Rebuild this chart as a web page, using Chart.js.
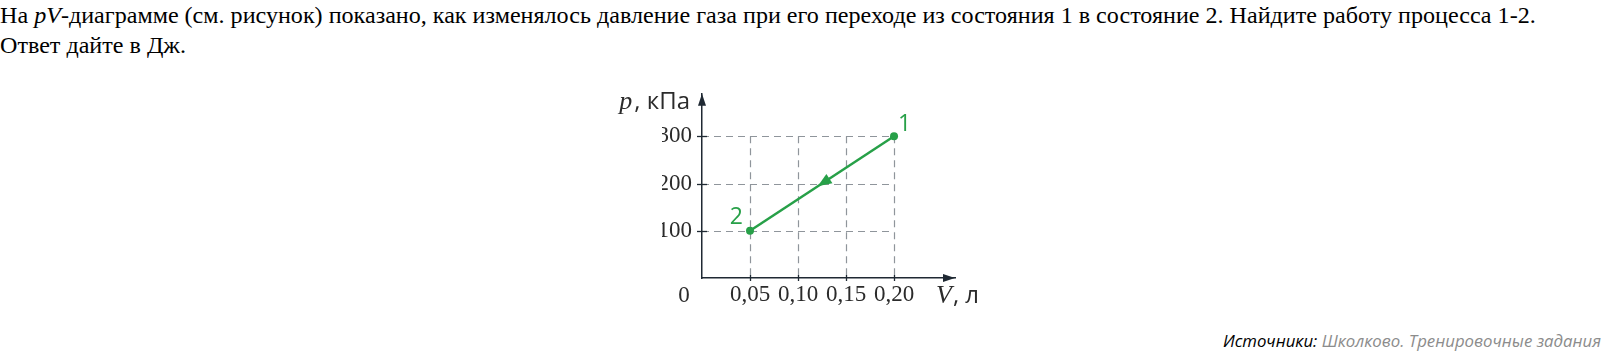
<!DOCTYPE html>
<html lang="ru">
<head>
<meta charset="utf-8">
<script src="https://cdn.jsdelivr.net/npm/chart.js@4.4.0/dist/chart.umd.min.js"></script>
<style>
html, body { margin: 0; padding: 0; background: #fff; width: 1601px; height: 351px; overflow: hidden; }
.task { position: absolute; left: 0; top: 1px; font-family: "Liberation Serif", serif; font-size: 24.1px; line-height: 29.5px; color: #000; white-space: nowrap; }
.task i { font-style: italic; }
#wrap { position: absolute; left: 600px; top: 70px; width: 380px; height: 250px; }
.source { position: absolute; right: 0; top: 329px; font-family: "Open Sans", sans-serif; font-style: italic; font-size: 16.8px; color: #000; white-space: nowrap; }
.source span { color: #8c8c8c; }
</style>
</head>
<body>
<div class="task">На <i>pV</i>-диаграмме (см. рисунок) показано, как изменялось давление газа при его переходе из состояния 1 в состояние 2. Найдите работу процесса 1-2.<br>Ответ дайте в Дж.</div>
<div id="wrap"><canvas id="chart" width="380" height="250"></canvas></div>
<div class="source">Источники: <span>Школково. Тренировочные задания</span></div>
<script>
// process 1 -> 2
var volumes = [0.20, 0.05];
var pressures = [300, 100];
var pointNames = ['1', '2'];

// axes
var vTicks = [0.05, 0.10, 0.15, 0.20];
var pTicks = [100, 200, 300];
var vMax = 0.2635;
var pMax = 390;

var green = '#27a048';
var axisColor = '#1f2933';
var gridColor = '#8f959b';
var labelColor = '#2b2b2b';

function fmtComma(v) {
    return v.toFixed(2).replace('.', ',');
}

var decor = {
    id: 'decor',
    beforeDatasetsDraw: function(chart) {
        var ctx = chart.ctx, sx = chart.scales.x, sy = chart.scales.y;
        var x0 = sx.getPixelForValue(0), x1 = sx.getPixelForValue(vTicks[vTicks.length - 1]);
        var y0 = sy.getPixelForValue(0), y1 = sy.getPixelForValue(pTicks[pTicks.length - 1]);
        ctx.save();
        ctx.strokeStyle = gridColor;
        ctx.lineWidth = 1.2;
        ctx.setLineDash([7, 5]);
        vTicks.forEach(function(v) {
            var px = Math.round(sx.getPixelForValue(v)) + 0.5;
            ctx.beginPath();
            ctx.moveTo(px, y1);
            ctx.lineTo(px, y0);
            ctx.stroke();
        });
        pTicks.forEach(function(p) {
            var py = Math.round(sy.getPixelForValue(p)) + 0.5;
            ctx.beginPath();
            ctx.moveTo(x0, py);
            ctx.lineTo(x1, py);
            ctx.stroke();
        });
        ctx.restore();
    },
    afterDraw: function(chart) {
        var ctx = chart.ctx, sx = chart.scales.x, sy = chart.scales.y;
        var area = chart.chartArea;
        var x0 = sx.getPixelForValue(0), y0 = sy.getPixelForValue(0);
        ctx.save();

        // tick marks
        ctx.strokeStyle = axisColor;
        ctx.lineWidth = 1.3;
        vTicks.forEach(function(v) {
            var px = Math.round(sx.getPixelForValue(v)) + 0.5;
            ctx.beginPath();
            ctx.moveTo(px, y0 - 3);
            ctx.lineTo(px, y0 + 3);
            ctx.stroke();
        });
        pTicks.forEach(function(p) {
            var py = Math.round(sy.getPixelForValue(p)) + 0.5;
            ctx.beginPath();
            ctx.moveTo(x0 - 5, py);
            ctx.lineTo(x0 + 5, py);
            ctx.stroke();
        });

        // axis arrows
        ctx.fillStyle = axisColor;
        ctx.beginPath();
        ctx.moveTo(x0, area.top);
        ctx.lineTo(x0 - 4, area.top + 12);
        ctx.lineTo(x0 + 4, area.top + 12);
        ctx.closePath();
        ctx.fill();
        ctx.beginPath();
        ctx.moveTo(area.right, y0);
        ctx.lineTo(area.right - 12, y0 - 4);
        ctx.lineTo(area.right - 12, y0 + 4);
        ctx.closePath();
        ctx.fill();

        // axis titles
        var sans = '24px "Open Sans"';
        var ital = 'italic 26px "Liberation Serif"';
        ctx.fillStyle = labelColor;
        ctx.textBaseline = 'alphabetic';
        ctx.textAlign = 'right';
        var unitP = ', кПа';
        var tx = x0 - 12;
        ctx.font = sans;
        var uw = ctx.measureText(unitP).width;
        ctx.fillText(unitP, tx, area.top + 15);
        ctx.font = ital;
        ctx.fillText('p', tx - uw - 2, area.top + 15);

        ctx.textAlign = 'left';
        ctx.font = ital;
        var vx = area.right - 19;
        ctx.fillText('V', vx, y0 + 25);
        var vw = ctx.measureText('V').width;
        ctx.font = sans;
        ctx.fillText(', л', vx + vw + 1, y0 + 25);

        ctx.font = '23px "Liberation Serif"';
        ctx.textAlign = 'center';
        ctx.fillText('0', x0 - 18, y0 + 24);

        // point labels
        ctx.fillStyle = green;
        ctx.font = '23px "Open Sans"';
        var px1 = sx.getPixelForValue(volumes[0]), py1 = sy.getPixelForValue(pressures[0]);
        var px2 = sx.getPixelForValue(volumes[1]), py2 = sy.getPixelForValue(pressures[1]);
        ctx.textAlign = 'left';
        ctx.fillText(pointNames[0], px1 + 4, py1 - 5);
        ctx.textAlign = 'right';
        ctx.fillText(pointNames[1], px2 - 7, py2 - 6.5);

        // direction arrow on the line
        var t = 0.53;
        var ax = px1 + (px2 - px1) * t, ay = py1 + (py2 - py1) * t;
        var len = Math.hypot(px2 - px1, py2 - py1);
        var ux = (px2 - px1) / len, uy = (py2 - py1) / len;
        ctx.beginPath();
        ctx.moveTo(ax, ay);
        ctx.lineTo(ax - ux * 14 - uy * 5.5, ay - uy * 14 + ux * 5.5);
        ctx.lineTo(ax - ux * 14 + uy * 5.5, ay - uy * 14 - ux * 5.5);
        ctx.closePath();
        ctx.fill();

        ctx.restore();
    }
};

new Chart(document.getElementById('chart'), {
    type: 'scatter',
    data: {
        datasets: [{
            data: volumes.map(function(v, i) { return { x: v, y: pressures[i] }; }),
            showLine: true,
            borderColor: green,
            backgroundColor: green,
            borderWidth: 2.5,
            pointRadius: 4,
            pointBackgroundColor: green,
            pointBorderWidth: 0
        }]
    },
    options: {
        responsive: false,
        animation: false,
        events: [],
        layout: { padding: { top: 22, bottom: 12, left: 62, right: 25 } },
        plugins: { legend: { display: false }, tooltip: { enabled: false } },
        scales: {
            x: {
                type: 'linear',
                min: 0,
                max: vMax,
                afterBuildTicks: function(s) { s.ticks = vTicks.map(function(v) { return { value: v }; }); },
                afterFit: function(s) { s.height = 30; },
                grid: { display: false, drawTicks: false },
                border: { display: true, color: axisColor, width: 1.5 },
                ticks: {
                    padding: 3,
                    autoSkip: false,
                    maxRotation: 0,
                    color: labelColor,
                    font: { family: 'Liberation Serif', size: 23 },
                    callback: function(v) { return fmtComma(v); }
                }
            },
            y: {
                min: 0,
                max: pMax,
                afterBuildTicks: function(s) { s.ticks = pTicks.map(function(p) { return { value: p }; }); },
                afterFit: function(s) { s.width = 40; },
                grid: { display: false, drawTicks: false },
                border: { display: true, color: axisColor, width: 1.5 },
                ticks: {
                    padding: 10,
                    autoSkip: false,
                    color: labelColor,
                    font: { family: 'Liberation Serif', size: 23 }
                }
            }
        }
    },
    plugins: [decor]
});
</script>
</body>
</html>
